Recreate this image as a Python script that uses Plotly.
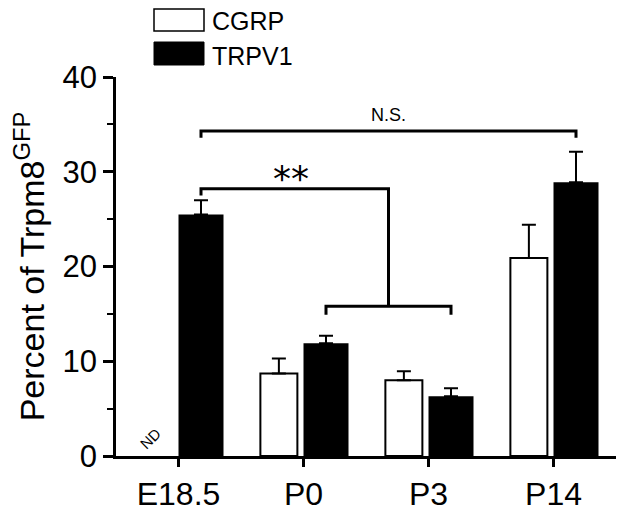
import plotly.graph_objects as go

categories = ["E18.5", "P0", "P3", "P14"]
cgrp_values = [None, 8.7, 8.0, 20.9]
cgrp_errors = [0, 1.6, 0.95, 3.5]
trpv1_values = [25.5, 11.9, 6.3, 28.9]
trpv1_errors = [1.5, 0.8, 0.85, 3.2]
y_ticks = [0, 10, 20, 30, 40]

FONT = "Liberation Sans, Arial, sans-serif"
xpos = list(range(len(categories)))

CG_OFF, CG_W = -0.345, 0.296
TR_OFF, TR_W = 0.0, 0.36

fig = go.Figure()
fig.add_trace(go.Bar(
    x=xpos, y=cgrp_values, name="CGRP",
    offset=CG_OFF, width=CG_W,
    marker=dict(color="white", line=dict(color="black", width=2)),
    error_y=dict(type="data", array=cgrp_errors, arrayminus=[0]*4, symmetric=False,
                 color="black", thickness=2, width=7),
))
fig.add_trace(go.Bar(
    x=xpos, y=trpv1_values, name="TRPV1",
    offset=TR_OFF, width=TR_W,
    marker=dict(color="black", line=dict(color="black", width=0)),
    error_y=dict(type="data", array=trpv1_errors, arrayminus=[0]*4, symmetric=False,
                 color="black", thickness=2, width=7),
))

def tr_center(i):
    return xpos[i] + TR_OFF + TR_W / 2

def cg_center(i):
    return xpos[i] + CG_OFF + CG_W / 2

line = dict(color="black", width=3)
shapes = []
ns_y, ns_drop = 34.3, 33.6
xa, xb = tr_center(0), tr_center(3)
shapes.append(dict(type="path", xref="x", yref="y",
                   path=f"M {xa},{ns_drop} L {xa},{ns_y} L {xb},{ns_y} L {xb},{ns_drop}",
                   line=line))
lo_y, lo_drop = 15.8, 14.9
xc, xd = tr_center(1), tr_center(2)
xm = (xc + xd) / 2
shapes.append(dict(type="path", xref="x", yref="y",
                   path=f"M {xc},{lo_drop} L {xc},{lo_y} L {xd},{lo_y} L {xd},{lo_drop}",
                   line=line))
st_y, st_drop = 28.2, 27.5
shapes.append(dict(type="path", xref="x", yref="y",
                   path=f"M {xa},{st_drop} L {xa},{st_y} L {xm},{st_y} L {xm},{lo_y}",
                   line=line))

# plot area occupies viewport pixels x 116..616, y 77..456
def px_x(p):
    return (p - 116) / 500
def px_y(p):
    return (456 - p) / 379

shapes.append(dict(type="rect", xref="paper", yref="paper",
                   x0=px_x(154), x1=px_x(204), y0=px_y(31), y1=px_y(9),
                   fillcolor="white", line=dict(color="black", width=1.5)))
shapes.append(dict(type="rect", xref="paper", yref="paper",
                   x0=px_x(154), x1=px_x(204), y0=px_y(65), y1=px_y(42),
                   fillcolor="black", line=dict(color="black", width=1)))

annotations = [
    dict(x=px_x(210), y=px_y(21), xref="paper", yref="paper", text="CGRP",
         showarrow=False, xanchor="left", yanchor="middle",
         font=dict(family=FONT, size=25, color="black")),
    dict(x=px_x(210), y=px_y(56), xref="paper", yref="paper", text="TRPV1",
         showarrow=False, xanchor="left", yanchor="middle",
         font=dict(family=FONT, size=25, color="black")),
    dict(x=(xa + xb) / 2, y=36.0, xref="x", yref="y", text="N.S.",
         showarrow=False, xanchor="center", yanchor="middle",
         font=dict(family=FONT, size=18, color="black")),
    dict(x=(xa + xm) / 2 - 0.03, y=29.3, xref="x", yref="y", text="**",
         showarrow=False, xanchor="center", yanchor="middle",
         font=dict(family="DejaVu Sans", size=36, color="black")),
    dict(x=cg_center(0) - 0.03, y=1.9, xref="x", yref="y", text="ND",
         showarrow=False, xanchor="center", yanchor="middle", textangle=-45,
         font=dict(family=FONT, size=15, color="black")),
]

# the page body adds an 8px offset, so the figure is sized/margined to compensate
fig.update_layout(
    width=616, height=505,
    margin=dict(l=108, r=8, t=69, b=57, pad=0, autoexpand=False),
    paper_bgcolor="white", plot_bgcolor="white",
    showlegend=False, barmode="overlay",
    font=dict(family=FONT, color="black"),
    shapes=shapes, annotations=annotations,
    xaxis=dict(range=[-0.5, 3.5], tickvals=xpos, ticktext=categories,
               automargin=False,
               showline=True, linecolor="black", linewidth=2.5,
               ticks="outside", ticklen=8, tickwidth=2.5, tickcolor="black",
               showgrid=False, zeroline=False,
               tickfont=dict(family=FONT, size=32, color="black")),
    yaxis=dict(range=[0, 40], tickvals=y_ticks, automargin=False,
               showline=True, linecolor="black", linewidth=2.5,
               ticks="outside", ticklen=10, tickwidth=2.5, tickcolor="black",
               minor=dict(ticks="outside", ticklen=6, tickwidth=2, tickcolor="black", dtick=5),
               showgrid=False, zeroline=False,
               tickfont=dict(family=FONT, size=31, color="black"),
               title=dict(text="Percent of Trpm8<sup>GFP</sup>", standoff=17,
                          font=dict(family=FONT, size=34, color="black"))),
)

fig.write_html("out.html")
